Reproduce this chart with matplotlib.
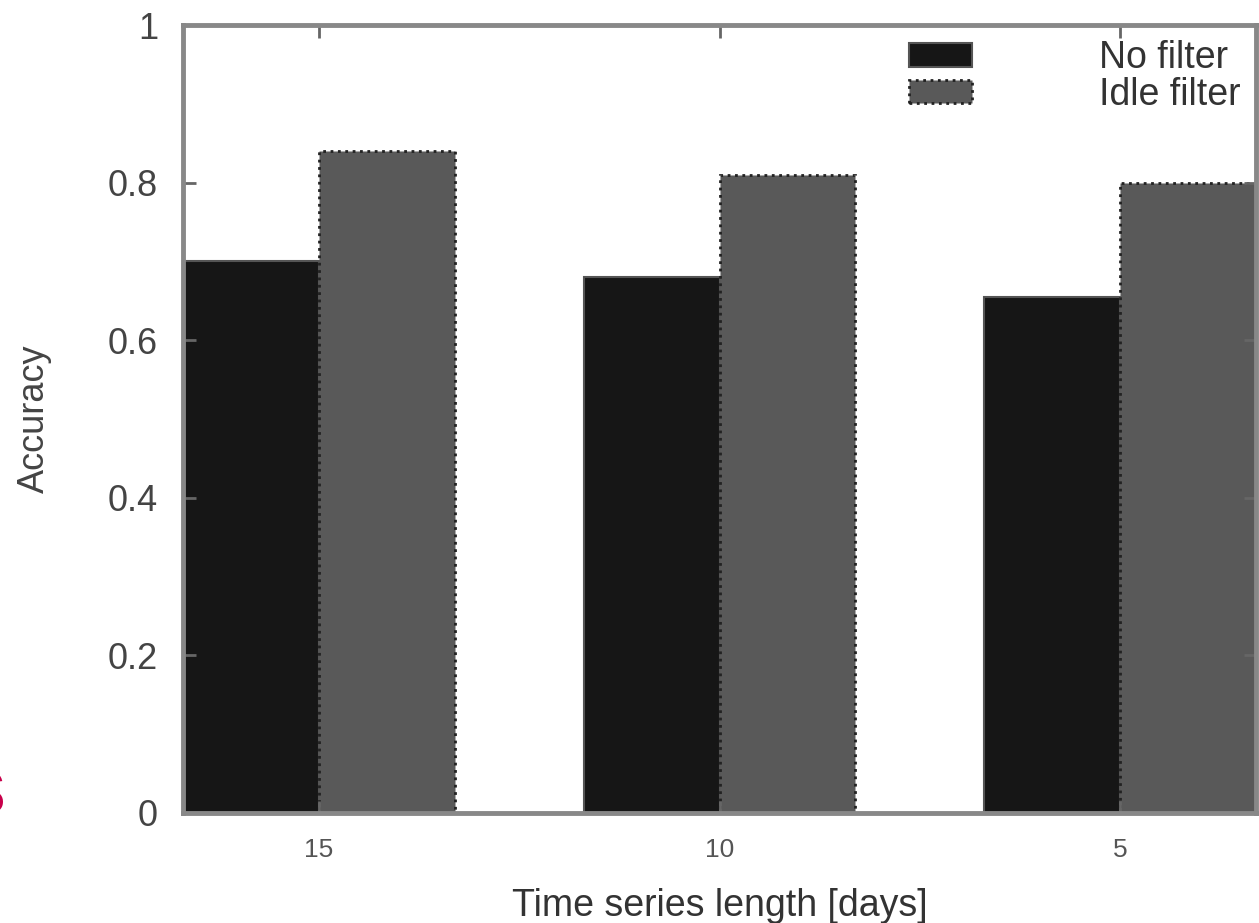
import matplotlib
matplotlib.use('Agg')
import matplotlib.pyplot as plt
import numpy as np

plt.rcParams['font.family'] = ['Liberation Sans', 'DejaVu Sans']

# Accuracy per time series length
lengths = ['15', '10', '5']
no_filter = [0.70, 0.68, 0.655]
idle_filter = [0.84, 0.81, 0.80]

fig = plt.figure(figsize=(12.59, 9.23), dpi=100)
ax = fig.add_axes([0.1454, 0.1192, 0.8522, 0.8537])

x = np.arange(len(lengths))
w = 0.339
ax.bar(x - w / 2, no_filter, w, color='#161616', edgecolor='#555555',
       linewidth=1.5, label='No filter', zorder=1)
ax.bar(x + w / 2, idle_filter, w, color='#595959', edgecolor='#222222',
       linewidth=2, linestyle=':', label='Idle filter', zorder=1)

ax.set_xlim(-w, len(lengths) - 1 + w)
ax.set_ylim(0, 1)
ax.set_xticks(x)
ax.set_xticklabels(lengths)
ax.set_yticks([0, 0.2, 0.4, 0.6, 0.8, 1])
ax.set_yticklabels(['0', '0.2', '0.4', '0.6', '0.8', '1'])

for s in ax.spines.values():
    s.set_color('#888888')
    s.set_linewidth(3.5)

ax.tick_params(axis='x', direction='in', length=9, width=2, color='#666666',
               top=True, labelsize=19, labelcolor='#555555', pad=18)
ax.tick_params(axis='y', direction='in', length=9, width=2, color='#666666',
               right=True, labelsize=26, labelcolor='#444444', pad=18)

ax.set_xlabel('Time series length [days]', fontsize=27, color='#333333',
              labelpad=19)
ax.set_ylabel('Accuracy', fontsize=26, color='#444444', labelpad=40)

leg = ax.legend(loc='upper right', fontsize=27, frameon=False,
                handlelength=1.67, handleheight=0.6, handletextpad=3.4,
                labelspacing=0.02, borderaxespad=0.2, borderpad=0.2)
for t in leg.get_texts():
    t.set_color('#333333')

# stray letter from the neighbouring column of the page
fig.text(6 / 1259, 1 - 813 / 923, 's', fontsize=56, color='#c8004a',
         ha='right', va='baseline')

fig.savefig('out.png', dpi=100)
